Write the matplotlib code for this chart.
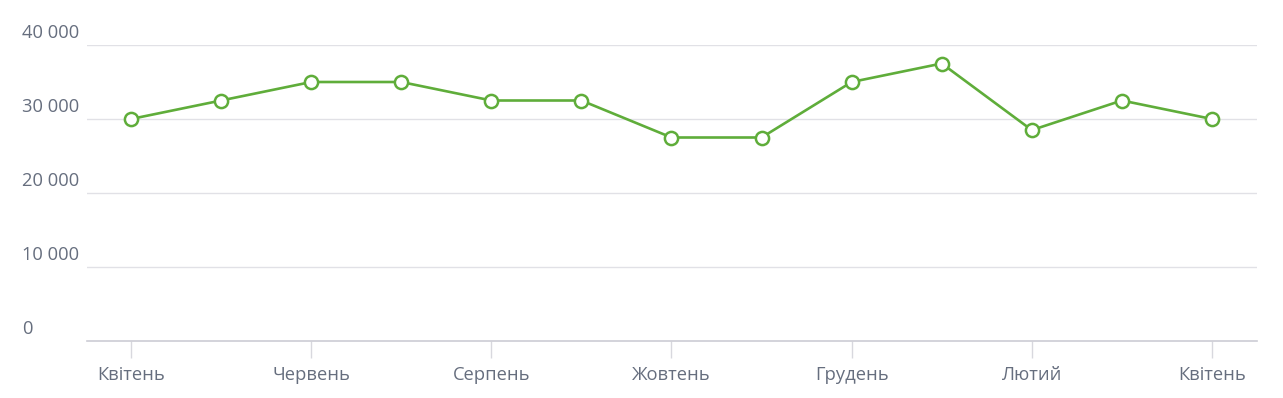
import matplotlib
matplotlib.use("Agg")
import matplotlib.pyplot as plt
import matplotlib.transforms as mtransforms

# Data
months = ["Квітень", "Травень", "Червень", "Липень", "Серпень", "Вересень", "Жовтень",
          "Листопад", "Грудень", "Січень", "Лютий", "Березень", "Квітень"]
values = [30000, 32500, 35000, 35000, 32500, 32500, 27500, 27500, 35000, 37500, 28500, 32500, 30000]
y_ticks = [0, 10000, 20000, 30000, 40000]
y_labels = ["0", "10 000", "20 000", "30 000", "40 000"]
label_idx = [0, 2, 4, 6, 8, 10, 12]

plt.rcParams["font.family"] = ["Open Sans", "DejaVu Sans"]
text_color = "#666e7e"
line_color = "#5fad3a"

W, H = 1283, 398
fig = plt.figure(figsize=(W / 100, H / 100), dpi=100)
ax = fig.add_axes([87 / W, 1 - 341 / H, (1257 - 87) / W, (341 - 45) / H])

x = list(range(len(values)))
ax.plot(x, values, color=line_color, linewidth=1.9, marker="o", markersize=9.5,
        markerfacecolor="white", markeredgecolor=line_color, markeredgewidth=1.8,
        clip_on=False, zorder=3)

ax.set_xlim(-44 / 90, 12.5)
ax.set_ylim(0, 40000)

# horizontal grid lines
for t in y_ticks[1:]:
    ax.axhline(t, color="#e1e1e6", linewidth=1, zorder=1)

for s in ["top", "right", "left"]:
    ax.spines[s].set_visible(False)
ax.spines["bottom"].set_color("#ccccd4")
ax.spines["bottom"].set_linewidth(1.2)

ax.set_yticks([])
ax.set_xticks(label_idx)
ax.set_xticklabels([months[i] for i in label_idx], fontsize=13.2, color=text_color)
ax.tick_params(axis="x", length=12, width=1, color="#d8d8de", pad=6)

# y labels above the grid lines, left aligned
trans = mtransforms.blended_transform_factory(fig.transFigure, ax.transData)
trans = trans + mtransforms.ScaledTranslation(0, 2.5 / 100, fig.dpi_scale_trans)
for t, lab in zip(y_ticks, y_labels):
    ax.text(22 / W, t, lab, transform=trans, ha="left", va="bottom",
            fontsize=13.2, color=text_color)

fig.savefig("out.png", dpi=100)
